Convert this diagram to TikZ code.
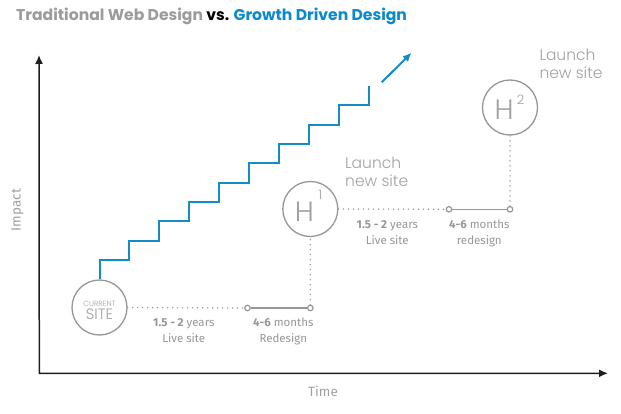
\documentclass[tikz,border=0pt]{standalone}
\usepackage{fontspec}
\setmainfont{Fira Sans}
\newfontfamily\titlefont{Poppins}
\newfontfamily\lightfont{Poppins Light}
\usetikzlibrary{arrows.meta}
\definecolor{tgray}{RGB}{155,155,155}
\definecolor{tblue}{RGB}{10,138,204}
\definecolor{sblue}{RGB}{20,140,200}
\definecolor{cgray}{RGB}{150,150,150}
\definecolor{lgray}{RGB}{160,160,160}
\definecolor{axisc}{RGB}{30,30,30}
\tikzset{
  axisline/.style={line width=1.5pt, draw=axisc, {Latex[length=9pt,width=8pt]}-{Latex[length=9pt,width=8pt]}},
  stair/.style={line width=2pt, draw=sblue},
  hcirc/.style={circle, draw=cgray, line width=1.3pt, minimum size=55pt, inner sep=0pt},
  smallc/.style={circle, draw=cgray, fill=white, line width=1.2pt, minimum size=5.5pt, inner sep=0pt},
  dotline/.style={draw=cgray, line width=1.6pt, line cap=round, dash pattern=on 0pt off 5pt},
  solidline/.style={draw=cgray, line width=1.3pt},
  bigH/.style={text=lgray, font=\lightfont\fontsize{28}{28}\selectfont, inner sep=0pt},
  supnum/.style={text=lgray, font=\lightfont\fontsize{13}{13}\selectfont, inner sep=0pt},
  launch/.style={text=lgray, font=\lightfont\fontsize{15.5}{17.5}\selectfont, align=left, anchor=west, inner sep=0pt},
  lbl/.style={text=cgray, font=\fontsize{11.5}{16}\selectfont, align=center, inner sep=0pt},
  axlbl/.style={text=lgray, font=\fontsize{13.5}{13.5}\selectfont, inner sep=0pt},
  curtxt/.style={text=lgray, anchor=base, inner sep=0pt}
}
\begin{document}
\begin{tikzpicture}[x=1pt,y=-1pt]
\useasboundingbox (0,0) rectangle (621,414);
% title
\node[anchor=base west, inner sep=0pt, font=\titlefont\bfseries\fontsize{15.6}{16}\selectfont] (title) at (16,21)
  {\textcolor{tgray}{Traditional Web Design} \textcolor{black}{vs.} \textcolor{tblue}{Growth Driven Design}};
% axes
\coordinate (ytop) at (39,55);
\coordinate (orig) at (39.3,373.3);
\coordinate (xend) at (608,373.3);
\draw[axisline] (ytop) -- (orig) -- (xend);
\node[axlbl, rotate=90] (impact) at (17.5,210) {Impact};
\node[axlbl] (time) at (323,391) {Time};
% circles
\node[hcirc] (cur) at (99.5,307.5) {};
\node[curtxt, font=\lightfont\fontsize{7.5}{7.5}\selectfont] (curA) at ([shift={(0,-1.5)}]cur.center) {CURRENT};
\node[curtxt, font=\lightfont\fontsize{15}{15}\selectfont] (curB) at ([shift={(0,11.5)}]cur.center) {SITE};
\node[hcirc] (h1) at (310.3,209) {};
\node[bigH] (h1H) at ([shift={(-6,2.5)}]h1.center) {H};
\node[supnum] (h1s) at ([shift={(10,-14)}]h1.center) {1};
\node[hcirc] (h2) at (510,107.5) {};
\node[bigH] (h2H) at ([shift={(-6,2.5)}]h2.center) {H};
\node[supnum] (h2s) at ([shift={(10.7,-8)}]h2.center) {2};
% timeline markers
\node[smallc] (s1) at (247.5,308) {};
\node[smallc] (s2) at (310.3,308) {};
\node[smallc] (s3) at (449,209.3) {};
\node[smallc] (s4) at (510,209.3) {};
\draw[dotline] (cur.east) -- (s1.west);
\draw[solidline] (s1) -- (s2);
\draw[dotline] (s2.north) -- (h1.south);
\draw[dotline] (h1.east) -- (s3.west);
\draw[solidline] (s3) -- (s4);
\draw[dotline] (s4.north) -- (h2.south);
% labels
\node[lbl] (l1) at (183.8,331) {\textbf{1.5 - 2} years\\Live site};
\node[lbl] (l2) at (283.3,331) {\textbf{4-6} months\\Redesign};
\node[lbl] (l3) at (387.3,233) {\textbf{1.5 - 2} years\\Live site};
\node[lbl] (l4) at (479.3,233) {\textbf{4-6} months\\redesign};
\node[launch] (la1) at (345,172) {Launch\\new site};
\node[launch] (la2) at (539.3,63.8) {Launch\\new site};
% stairs
\draw[stair] (cur.north) -- ++(0,-19.3) \foreach \i in {1,...,9}{ -- ++(29.9,0) -- ++(0,-19.33)};
\coordinate (ga) at (381.7,82.3);
\coordinate (gb) at (411.7,52.7);
\draw[stair, -{Latex[length=9pt,width=8pt]}] (ga) -- (gb);
\end{tikzpicture}
\end{document}
